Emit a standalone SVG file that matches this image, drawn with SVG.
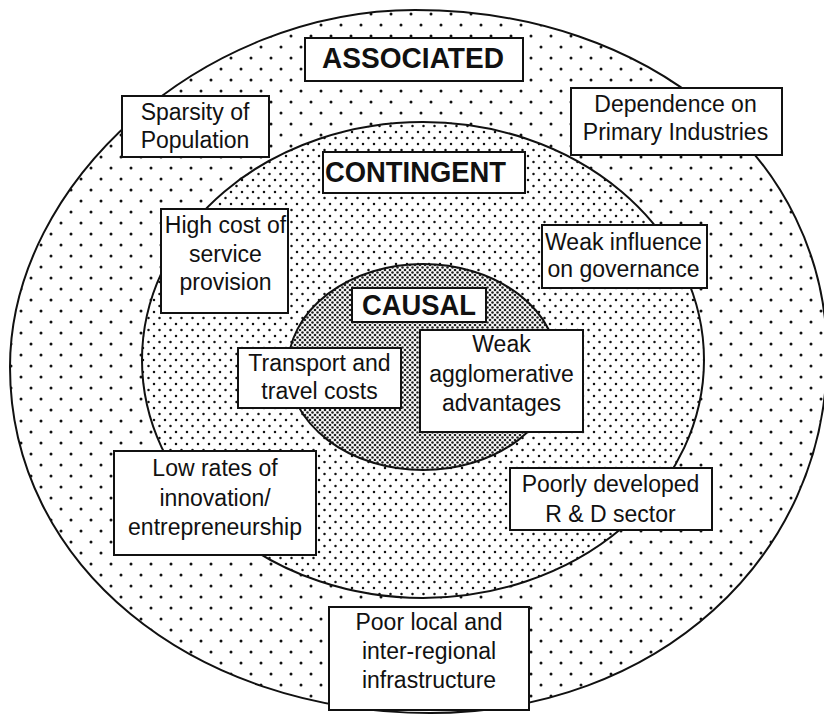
<svg xmlns="http://www.w3.org/2000/svg" width="824" height="718" viewBox="0 0 824 718">
<defs>
<pattern id="pOuter" patternUnits="userSpaceOnUse" x="1" y="3" width="20" height="22">
<rect width="20" height="22" fill="#fff"/>
<circle cx="0" cy="0" r="1.5" fill="#111"/><circle cx="20" cy="0" r="1.5" fill="#111"/>
<circle cx="0" cy="22" r="1.5" fill="#111"/><circle cx="20" cy="22" r="1.5" fill="#111"/>
<circle cx="10" cy="11" r="1.5" fill="#111"/>
</pattern>
<pattern id="pMid" patternUnits="userSpaceOnUse" x="0" y="0" width="11" height="12">
<rect width="11" height="12" fill="#fff"/>
<circle cx="0" cy="0" r="1.25" fill="#111"/><circle cx="11" cy="0" r="1.25" fill="#111"/>
<circle cx="0" cy="12" r="1.25" fill="#111"/><circle cx="11" cy="12" r="1.25" fill="#111"/>
<circle cx="5.5" cy="6" r="1.25" fill="#111"/>
</pattern>
<pattern id="pIn" patternUnits="userSpaceOnUse" x="0" y="0" width="5" height="5">
<rect width="5" height="5" fill="#fff"/>
<circle cx="0" cy="0" r="1.3" fill="#222"/><circle cx="5" cy="0" r="1.3" fill="#222"/>
<circle cx="0" cy="5" r="1.3" fill="#222"/><circle cx="5" cy="5" r="1.3" fill="#222"/>
<circle cx="2.5" cy="2.5" r="1.3" fill="#222"/>
</pattern>
<style>
.ring{stroke:#111;stroke-width:2}
.box{fill:#fff;stroke:#111;stroke-width:2}
.t{font-family:"Liberation Sans",Arial,sans-serif;font-size:23px;fill:#111;text-anchor:middle}
.h{font-family:"Liberation Sans",Arial,sans-serif;font-size:29px;font-weight:bold;fill:#111;text-anchor:middle}
</style>
</defs>
<rect width="824" height="718" fill="#fff"/>
<g id="rings">
<path id="associated-ring" class="ring" fill="url(#pOuter)" d="M10,367 C10,181.4 204.4,10 415,10 C649.8,10 827,158.3 827,355 C827,558.5 656.3,713 430,713 C190.6,713 10,563.7 10,367 Z"/>
<ellipse id="contingent-ring" class="ring" fill="url(#pMid)" cx="423" cy="360" rx="281" ry="238"/>
<ellipse id="causal-ring" class="ring" fill="url(#pIn)" cx="423" cy="367" rx="135" ry="103"/>
</g>
<g id="connectors"></g>
<g id="associated-label"><rect class="box" x="305" y="38" width="218" height="43"/><text class="h" x="413" y="68" textLength="182" lengthAdjust="spacingAndGlyphs">ASSOCIATED</text></g>
<g id="contingent-label"><rect class="box" x="323" y="152" width="202" height="41"/><text class="h" x="415.5" y="182" textLength="181" lengthAdjust="spacingAndGlyphs">CONTINGENT</text></g>
<g id="causal-label"><rect class="box" x="352" y="288" width="134" height="34"/><text class="h" x="419" y="315" textLength="114" lengthAdjust="spacingAndGlyphs">CAUSAL</text></g>
<g id="sparsity"><rect class="box" x="122" y="96" width="147" height="61"/><text class="t" x="195" y="120">Sparsity of</text><text class="t" x="195" y="148">Population</text></g>
<g id="dependence"><rect class="box" x="571" y="88" width="211" height="67"/><text class="t" x="675.5" y="112">Dependence on</text><text class="t" x="675.5" y="140">Primary Industries</text></g>
<g id="high-cost"><rect class="box" x="161" y="209" width="127" height="104"/><text class="t" x="225.5" y="233">High cost of</text><text class="t" x="225.5" y="262">service</text><text class="t" x="225.5" y="290">provision</text></g>
<g id="weak-influence"><rect class="box" x="542" y="225" width="165" height="63"/><text class="t" x="623.5" y="250">Weak influence</text><text class="t" x="623.5" y="277">on governance</text></g>
<g id="transport"><rect class="box" x="238" y="348" width="163" height="60"/><text class="t" x="319.5" y="371">Transport and</text><text class="t" x="319.5" y="399">travel costs</text></g>
<g id="weak-agglomerative"><rect class="box" x="420" y="330" width="163" height="102"/><text class="t" x="501.5" y="352">Weak</text><text class="t" x="501.5" y="382">agglomerative</text><text class="t" x="501.5" y="411">advantages</text></g>
<g id="low-rates"><rect class="box" x="114" y="451" width="202" height="104"/><text class="t" x="215" y="476">Low rates of</text><text class="t" x="215" y="506">innovation/</text><text class="t" x="215" y="535">entrepreneurship</text></g>
<g id="poorly-developed"><rect class="box" x="510" y="468" width="202" height="62"/><text class="t" x="610.5" y="492">Poorly developed</text><text class="t" x="610.5" y="522">R &amp; D sector</text></g>
<g id="poor-infrastructure"><rect class="box" x="329" y="607" width="200" height="103"/><text class="t" x="429" y="630">Poor local and</text><text class="t" x="429" y="659">inter-regional</text><text class="t" x="429" y="688">infrastructure</text></g>
</svg>
